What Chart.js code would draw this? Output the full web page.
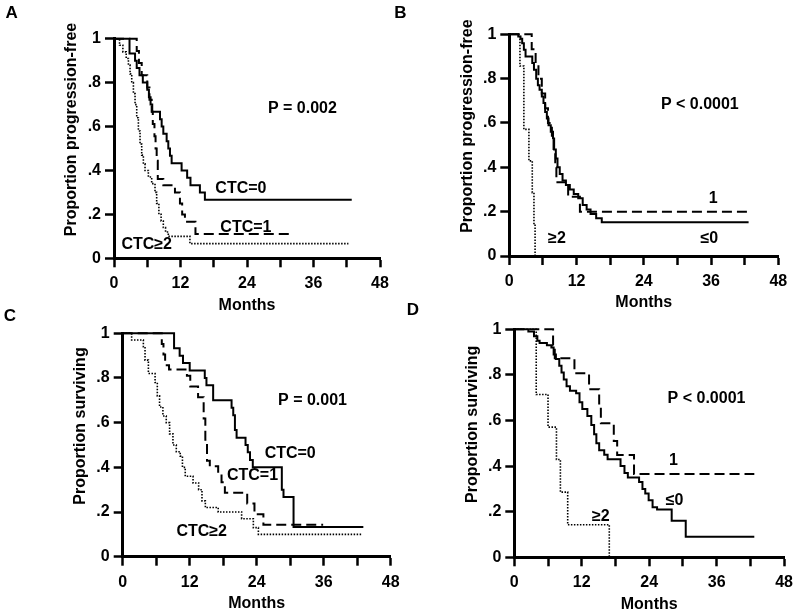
<!DOCTYPE html>
<html>
<head>
<meta charset="utf-8">
<script src="https://cdn.jsdelivr.net/npm/chart.js@4.4.1/dist/chart.umd.min.js"></script>
<style>
	body { margin: 0; background: #fff; width: 800px; height: 615px; position: relative; overflow: hidden; }
	canvas { position: absolute; }
</style>
</head>
<body>
<canvas id="chartA" width="400" height="320" style="left:0px;top:0px"></canvas>
<canvas id="chartB" width="410" height="320" style="left:390px;top:0px"></canvas>
<canvas id="chartC" width="410" height="320" style="left:0px;top:295px"></canvas>
<canvas id="chartD" width="400" height="320" style="left:400px;top:295px"></canvas>
<script>
Chart.defaults.font.family = "'Liberation Sans', Arial, sans-serif";
Chart.defaults.font.size = 16;
Chart.defaults.font.weight = "bold";
Chart.defaults.color = "#000";

var xTickLabels = ["0", "12", "24", "36", "48"];
var yTickLabels = ["0", ".2", ".4", ".6", ".8", "1"];

// A: progression-free, CTC=0 / CTC=1 / CTC>=2
var monthsA0 = [0, 2.8, 3.8, 4.1, 4.6, 5.2, 6.0, 6.3, 6.6, 6.9, 8.3, 8.6, 8.9, 9.5, 9.8, 10.1, 10.4, 12.2, 13.2, 13.8, 15.5, 16.4, 42.9];
var propA0 = [1, 0.933, 0.9, 0.867, 0.833, 0.8, 0.767, 0.733, 0.7, 0.667, 0.633, 0.6, 0.567, 0.533, 0.5, 0.467, 0.433, 0.4, 0.367, 0.333, 0.3, 0.267, 0.267];
var monthsA1 = [0, 4.1, 4.5, 5.0, 6.0, 6.4, 6.8, 7.0, 7.3, 7.5, 7.7, 7.9, 8.9, 11.0, 11.9, 12.3, 12.8, 14.7, 32.4];
var propA1 = [1, 0.944, 0.889, 0.833, 0.778, 0.722, 0.667, 0.611, 0.556, 0.5, 0.444, 0.361, 0.333, 0.3, 0.25, 0.2, 0.167, 0.111, 0.111];
var monthsA2 = [0, 1.0, 1.6, 2.2, 2.6, 2.9, 3.2, 3.5, 3.8, 4.1, 4.4, 4.7, 5.0, 5.3, 5.6, 6.2, 6.8, 7.4, 7.7, 8.1, 8.5, 8.9, 9.3, 9.8, 13.7, 42.3];
var propA2 = [1, 0.97, 0.94, 0.91, 0.88, 0.84, 0.8, 0.75, 0.7, 0.64, 0.58, 0.52, 0.47, 0.43, 0.4, 0.37, 0.34, 0.3, 0.25, 0.2, 0.17, 0.14, 0.12, 0.1, 0.067, 0.067];

// B: progression-free, change groups <=0 / 1 / >=2
var monthsB0 = [0, 1.6, 2.0, 2.3, 2.6, 2.9, 4.1, 4.4, 4.8, 5.1, 5.4, 5.8, 6.1, 6.4, 6.7, 7.0, 7.4, 7.8, 8.0, 8.3, 8.6, 9.0, 9.5, 10.1, 10.8, 11.5, 12.3, 13.1, 13.8, 14.5, 15.5, 16.5, 42.7];
var propB0 = [1, 0.99, 0.98, 0.96, 0.93, 0.9, 0.87, 0.84, 0.8, 0.77, 0.75, 0.72, 0.69, 0.65, 0.62, 0.59, 0.56, 0.53, 0.48, 0.44, 0.4, 0.37, 0.34, 0.32, 0.3, 0.28, 0.26, 0.23, 0.21, 0.19, 0.17, 0.152, 0.152];
var monthsB1 = [0, 4.0, 4.7, 5.2, 5.8, 6.4, 6.9, 7.6, 7.9, 8.2, 8.4, 10.5, 12.6, 42.4];
var propB1 = [1, 0.933, 0.867, 0.8, 0.733, 0.667, 0.6, 0.533, 0.467, 0.4, 0.333, 0.267, 0.2, 0.2];
var monthsB2 = [0, 1.9, 2.6, 3.5, 4.1, 4.4, 4.6];
var propB2 = [1, 0.857, 0.571, 0.429, 0.286, 0.143, 0];

// C: survival, CTC=0 / CTC=1 / CTC>=2
var monthsC0 = [0, 9.2, 10.2, 10.8, 12.0, 14.7, 15.0, 16.2, 19.5, 19.8, 20.1, 20.4, 22.0, 22.4, 22.8, 23.3, 28.5, 28.8, 30.6, 43.1];
var propC0 = [1, 0.933, 0.9, 0.867, 0.833, 0.8, 0.767, 0.7, 0.667, 0.633, 0.567, 0.533, 0.5, 0.467, 0.433, 0.4, 0.3, 0.267, 0.133, 0.133];
var monthsC1 = [0, 7.0, 7.3, 7.6, 8.3, 11.5, 12.1, 13.5, 14.5, 14.8, 15.1, 15.6, 17.1, 17.7, 18.3, 22.3, 23.6, 25.2, 35.9];
var propC1 = [1, 0.952, 0.905, 0.857, 0.838, 0.81, 0.762, 0.714, 0.619, 0.524, 0.429, 0.405, 0.371, 0.333, 0.286, 0.238, 0.19, 0.143, 0.143];
var monthsC2 = [0, 1.6, 3.7, 4.0, 4.6, 5.8, 6.2, 6.6, 7.2, 7.8, 8.4, 9.0, 9.6, 10.3, 10.7, 11.2, 12.6, 13.6, 14.2, 14.8, 17.1, 21.3, 23.4, 24.3, 42.8];
var propC2 = [1, 0.97, 0.94, 0.88, 0.82, 0.78, 0.72, 0.67, 0.63, 0.6, 0.55, 0.5, 0.47, 0.45, 0.4, 0.36, 0.33, 0.3, 0.25, 0.22, 0.2, 0.17, 0.13, 0.1, 0.1];

// D: survival, change groups <=0 / 1 / >=2
var monthsD0 = [0, 2.5, 3.5, 4.1, 4.5, 5.8, 6.6, 7.0, 7.4, 8.0, 8.4, 8.8, 9.3, 9.9, 11.0, 11.6, 12.1, 13.0, 13.7, 14.2, 14.6, 15.1, 16.0, 16.6, 18.9, 19.6, 20.2, 22.2, 22.8, 23.3, 23.9, 24.6, 25.4, 28.0, 30.5, 42.7];
var propD0 = [1, 0.99, 0.97, 0.95, 0.94, 0.93, 0.92, 0.89, 0.87, 0.84, 0.81, 0.78, 0.75, 0.73, 0.72, 0.68, 0.65, 0.62, 0.58, 0.54, 0.5, 0.47, 0.45, 0.43, 0.4, 0.37, 0.35, 0.33, 0.3, 0.28, 0.25, 0.22, 0.21, 0.16, 0.09, 0.09];
var monthsD1 = [0, 6.9, 7.2, 10.7, 13.3, 15.1, 15.4, 17.7, 18.3, 21.3, 42.7];
var propD1 = [1, 0.93, 0.873, 0.807, 0.737, 0.667, 0.588, 0.51, 0.449, 0.365, 0.365];
var monthsD2 = [0, 3.9, 6.0, 7.5, 8.2, 9.5, 16.9];
var propD2 = [1, 0.714, 0.571, 0.429, 0.286, 0.143, 0];

var lineStyles = {
	solid: { borderWidth: 2, borderDash: [] },
	dashed: { borderWidth: 2, borderDash: [10, 5] },
	dotted: { borderWidth: 1.6, borderDash: [1.5, 1.5] },
};

function makeSeries(months, prop, style) {
	return {
		data: months.map(function (m, i) {
			return { x: m, y: prop[i] };
		}),
		// hold the old value until the event time, then drop
		stepped: "before",
		borderColor: "#000",
		borderWidth: lineStyles[style].borderWidth,
		borderDash: lineStyles[style].borderDash,
		pointRadius: 0,
		fill: false,
		clip: false,
	};
}

function drawPanel(id, cfg) {
	var textPlugin = {
		id: "kmText",
		afterDraw: function (chart) {
			var ctx = chart.ctx;
			var ca = chart.chartArea;
			var xs = chart.scales.x;
			var ys = chart.scales.y;
			ctx.save();
			ctx.fillStyle = "#000";
			ctx.textAlign = "center";
			ctx.textBaseline = "middle";

			ctx.font = "bold 17px 'Liberation Sans', Arial, sans-serif";
			ctx.fillText(cfg.letter, cfg.letterPos[0], cfg.letterPos[1]);

			ctx.font = "bold 16px 'Liberation Sans', Arial, sans-serif";
			cfg.notes.forEach(function (n) {
				ctx.fillText(n.text, xs.getPixelForValue(n.at[0]), ys.getPixelForValue(n.at[1]));
			});

			ctx.fillText("Months", (ca.left + ca.right) / 2, ca.bottom + 47);

			ctx.translate(ca.left - 42, (ca.top + ca.bottom) / 2 - 19);
			ctx.rotate(-Math.PI / 2);
			ctx.fillText(cfg.yTitle, 0, 0);
			ctx.restore();
		},
	};

	return new Chart(document.getElementById(id), {
		type: "line",
		data: { datasets: cfg.datasets },
		plugins: [textPlugin],
		options: {
			responsive: false,
			animation: false,
			layout: { padding: { top: cfg.pad[0], right: cfg.pad[1], left: 0, bottom: 0 } },
			plugins: { legend: { display: false }, tooltip: { enabled: false } },
			scales: {
				x: {
					type: "linear",
					min: 0,
					max: 48,
					afterFit: function (s) { s.height = cfg.xHeight; },
					grid: { drawOnChartArea: false, drawTicks: true, tickLength: 9, tickWidth: 2.5, tickColor: "#000" },
					border: { display: true, width: 3, color: "#000" },
					ticks: {
						stepSize: 6,
						autoSkip: false,
						maxRotation: 0,
						padding: 7,
						callback: function (v) {
							return v % 12 === 0 ? xTickLabels[v / 12] : "";
						},
					},
				},
				y: {
					min: 0,
					max: 1,
					afterFit: function (s) { s.width = cfg.yWidth; },
					grid: { drawOnChartArea: false, drawTicks: true, tickLength: 9, tickWidth: 2.5, tickColor: "#000" },
					border: { display: true, width: 3, color: "#000" },
					ticks: {
						stepSize: 0.2,
						padding: 4,
						callback: function (v) {
							return yTickLabels[Math.round(v * 5)];
						},
					},
				},
			},
		},
	});
}

drawPanel("chartA", {
	letter: "A", letterPos: [11.7, 13.3],
	pad: [38.7, 20], yWidth: 114, xHeight: 61.7,
	yTitle: "Proportion progression-free",
	datasets: [makeSeries(monthsA0, propA0, "solid"), makeSeries(monthsA1, propA1, "dashed"), makeSeries(monthsA2, propA2, "dotted")],
	notes: [
		{ text: "P = 0.002", at: [34.0, 0.683] },
		{ text: "CTC=0", at: [22.9, 0.319] },
		{ text: "CTC=1", at: [23.8, 0.139] },
		{ text: "CTC\u22652", at: [5.9, 0.064] },
	],
});

drawPanel("chartB", {
	letter: "B", letterPos: [10.5, 13.3],
	pad: [34.3, 21.7], yWidth: 119.3, xHeight: 64,
	yTitle: "Proportion progression-free",
	datasets: [makeSeries(monthsB0, propB0, "solid"), makeSeries(monthsB1, propB1, "dashed"), makeSeries(monthsB2, propB2, "dotted")],
	notes: [
		{ text: "P < 0.0001", at: [34.0, 0.681] },
		{ text: "1", at: [36.4, 0.26] },
		{ text: "\u22652", at: [8.5, 0.08] },
		{ text: "\u22640", at: [35.7, 0.08] },
	],
});

drawPanel("chartC", {
	letter: "C", letterPos: [10, 21.7],
	pad: [38.3, 19.3], yWidth: 122.7, xHeight: 58.3,
	yTitle: "Proportion surviving",
	datasets: [makeSeries(monthsC0, propC0, "solid"), makeSeries(monthsC1, propC1, "dashed"), makeSeries(monthsC2, propC2, "dotted")],
	notes: [
		{ text: "P = 0.001", at: [34.0, 0.70] },
		{ text: "CTC=0", at: [30.0, 0.463] },
		{ text: "CTC=1", at: [23.25, 0.363] },
		{ text: "CTC\u22652", at: [14.15, 0.112] },
	],
});

drawPanel("chartD", {
	letter: "D", letterPos: [13, 15],
	pad: [34.3, 13.3], yWidth: 114.3, xHeight: 57.7,
	yTitle: "Proportion surviving",
	datasets: [makeSeries(monthsD0, propD0, "solid"), makeSeries(monthsD1, propD1, "dashed"), makeSeries(monthsD2, propD2, "dotted")],
	notes: [
		{ text: "P < 0.0001", at: [34.2, 0.697] },
		{ text: "1", at: [28.3, 0.422] },
		{ text: "\u22640", at: [28.5, 0.247] },
		{ text: "\u22652", at: [15.4, 0.178] },
	],
});
</script>
</body>
</html>
